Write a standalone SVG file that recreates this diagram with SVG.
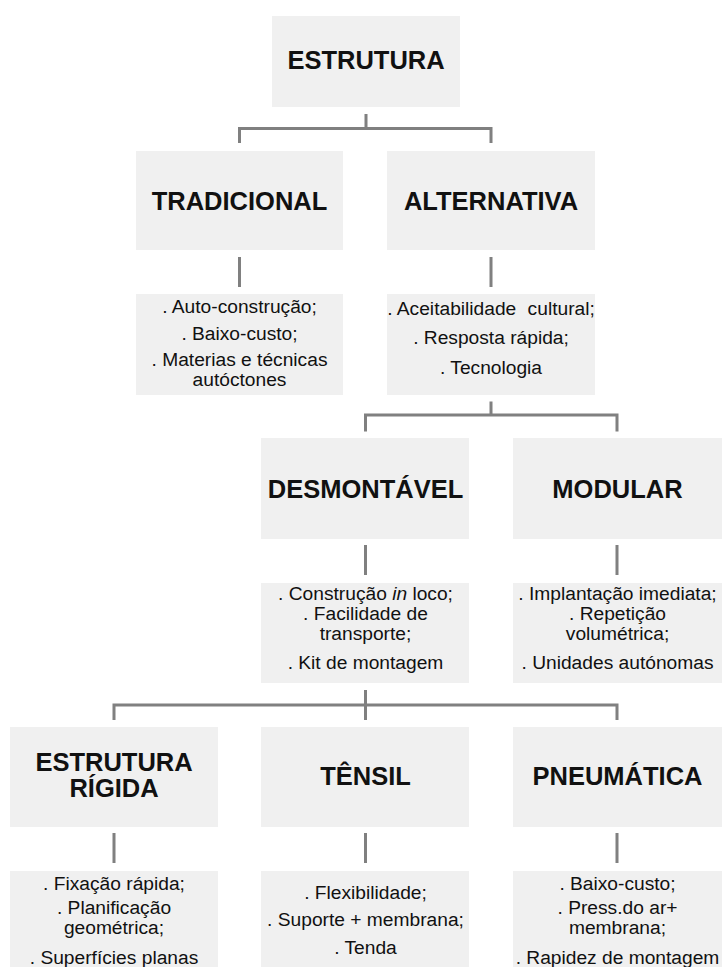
<svg xmlns="http://www.w3.org/2000/svg" width="722" height="967" viewBox="0 0 722 967">
<style>
.box{fill:#f0f0f0}
.h{font-family:"Liberation Sans",Arial,sans-serif;font-weight:bold;font-size:25.5px;fill:#111;text-anchor:middle}
.t{font-family:"Liberation Sans",Arial,sans-serif;font-size:19.2px;fill:#111;text-anchor:middle}
.c{fill:none;stroke:#808080;stroke-width:3}
</style>
<rect width="722" height="967" fill="#fff"/>
<g id="connectors" class="c">
<path d="M366 114V128.5M239.5 143V128.5H491V143"/>
<path d="M239.5 257V287M491 257V287"/>
<path d="M491 401.5V415M365.5 431.5V415H617V431.5"/>
<path d="M365.5 545V575M617 545V575"/>
<path d="M365.5 690V720M114 720V705H617V720"/>
<path d="M114 833V863M365.5 833V863M617 833V863"/>
</g>
<g id="estrutura"><rect class="box" x="272" y="16" width="188" height="91"/><text class="h" x="366" y="69">ESTRUTURA</text></g>
<g id="tradicional"><rect class="box" x="136" y="151" width="207" height="99"/><text class="h" x="239.5" y="209.5">TRADICIONAL</text></g>
<g id="alternativa"><rect class="box" x="387" y="151" width="208" height="99"/><text class="h" x="491" y="209.5">ALTERNATIVA</text></g>
<g id="tradicional-desc"><rect class="box" x="136" y="294" width="207" height="101"/>
<text class="t" x="239.5" y="312.5">. Auto-construção;</text>
<text class="t" x="239.5" y="340">. Baixo-custo;</text>
<text class="t" x="239.5" y="366">. Materias e técnicas</text>
<text class="t" x="239.5" y="386">autóctones</text></g>
<g id="alternativa-desc"><rect class="box" x="387" y="294" width="208" height="101"/>
<text class="t" x="491" y="315">. Aceitabilidade<tspan dx="6"> cultural;</tspan></text>
<text class="t" x="491" y="344">. Resposta rápida;</text>
<text class="t" x="491" y="374">. Tecnologia</text></g>
<g id="desmontavel"><rect class="box" x="261" y="438" width="208" height="101"/><text class="h" x="365.5" y="498">DESMONTÁVEL</text></g>
<g id="modular"><rect class="box" x="513" y="438" width="209" height="101"/><text class="h" x="617.5" y="498">MODULAR</text></g>
<g id="desmontavel-desc"><rect class="box" x="261" y="583" width="208" height="100"/>
<text class="t" x="365.5" y="600">. Construção <tspan font-style="italic">in</tspan> loco;</text>
<text class="t" x="365.5" y="620">. Facilidade de</text>
<text class="t" x="365.5" y="640">transporte;</text>
<text class="t" x="365.5" y="669">. Kit de montagem</text></g>
<g id="modular-desc"><rect class="box" x="513" y="583" width="209" height="100"/>
<text class="t" x="617.5" y="600">. Implantação imediata;</text>
<text class="t" x="617.5" y="620">. Repetição</text>
<text class="t" x="617.5" y="640">volumétrica;</text>
<text class="t" x="617.5" y="669">. Unidades autónomas</text></g>
<g id="estrutura-rigida"><rect class="box" x="10" y="727" width="208" height="100"/>
<text class="h" x="114" y="770.5">ESTRUTURA</text><text class="h" x="114" y="797">RÍGIDA</text></g>
<g id="tensil"><rect class="box" x="261" y="727" width="208" height="100"/><text class="h" x="365.5" y="784.5">TÊNSIL</text></g>
<g id="pneumatica"><rect class="box" x="513" y="727" width="209" height="100"/><text class="h" x="617.5" y="784.5">PNEUMÁTICA</text></g>
<g id="estrutura-rigida-desc"><rect class="box" x="10" y="871" width="208" height="96"/>
<text class="t" x="114" y="890">. Fixação rápida;</text>
<text class="t" x="114" y="914">. Planificação</text>
<text class="t" x="114" y="934">geométrica;</text>
<text class="t" x="114" y="964">. Superfícies planas</text></g>
<g id="tensil-desc"><rect class="box" x="261" y="871" width="208" height="96"/>
<text class="t" x="365.5" y="899">. Flexibilidade;</text>
<text class="t" x="365.5" y="926">. Suporte + membrana;</text>
<text class="t" x="365.5" y="954">. Tenda</text></g>
<g id="pneumatica-desc"><rect class="box" x="513" y="871" width="209" height="96"/>
<text class="t" x="617.5" y="890">. Baixo-custo;</text>
<text class="t" x="617.5" y="914">. Press.do ar+</text>
<text class="t" x="617.5" y="934">membrana;</text>
<text class="t" x="617.5" y="964">. Rapidez de montagem</text></g>
</svg>
